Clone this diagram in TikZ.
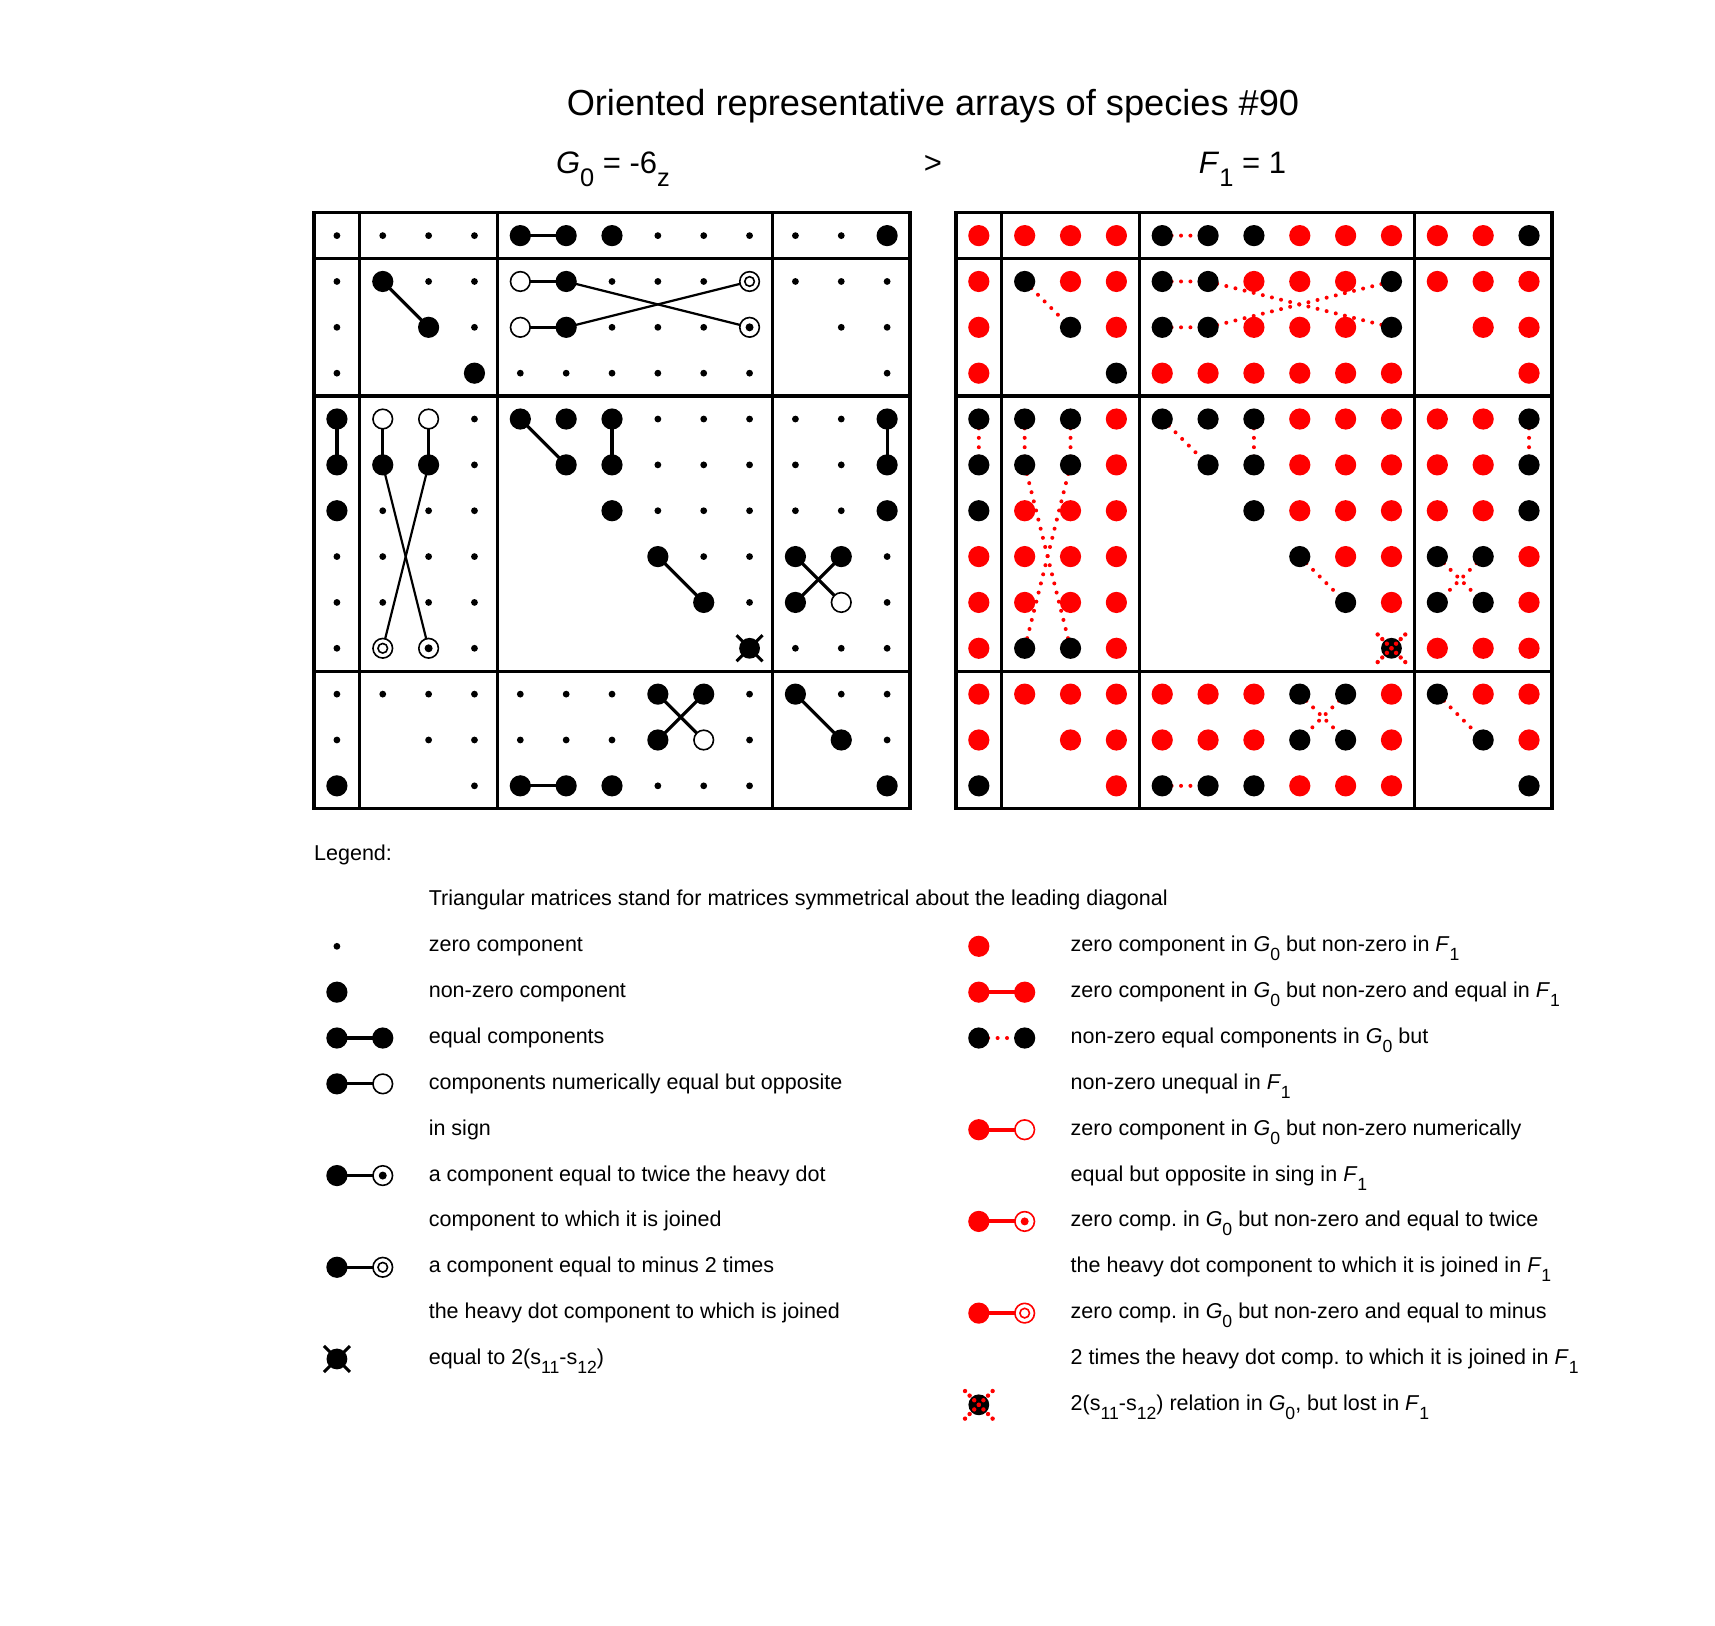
\documentclass[tikz,border=0pt]{standalone}
\usepackage{fontspec}
\setmainfont{Liberation Sans}
\usepackage{graphicx}
\frenchspacing
\newcommand\lsb[1]{\raisebox{-0.42em}{\scalebox{0.82}{#1}}}
\newcommand\hfont{\fontsize{31}{36}\selectfont}
\newcommand\lfont{\fontsize{21.5}{26}\selectfont}
\definecolor{myred}{RGB}{255,0,0}
\newcommand\bigdot[2][black]{\fill[#1] (#2) circle[radius=10.6pt];}
\newcommand\smdot[1]{\fill (#1) circle[radius=3.4pt];}
\newcommand\opendot[2][black]{\draw[#1,line width=1.6pt,fill=white] (#2) circle[radius=9.8pt];}
\newcommand\twicedot[2][black]{\opendot[#1]{#2}\fill[#1] (#2) circle[radius=4pt];}
\newcommand\minusdot[2][black]{\opendot[#1]{#2}\draw[#1,line width=1.6pt] (#2) circle[radius=4.8pt];}
\newcommand\xdot[1]{\fill (#1) circle[radius=10.4pt];
  \draw[line width=3pt] ([shift={(-13pt,-13pt)}]#1) -- ([shift={(13pt,13pt)}]#1);
  \draw[line width=3pt] ([shift={(-13pt,13pt)}]#1) -- ([shift={(13pt,-13pt)}]#1);}
\newcommand\rxdot[1]{\fill (#1) circle[radius=10.4pt];
  \foreach \k/\m in {-3/3,-2/2,-1/1,0/0,1/-1,2/-2,3/-3}{
    \fill[myred] ([shift={(\k*4.6pt,\k*4.6pt)}]#1) circle[radius=2.2pt];
    \fill[myred] ([shift={(\k*4.6pt,\m*4.6pt)}]#1) circle[radius=2.2pt];}}
\def\Lsmall{0/{0,1,2,3,7,8,9,10,11},1/{0,2,3,6,7,8,10,11,12},2/{0,3,6,7,8,11,12},3/{0,4,5,6,7,8,9,12},4/{3,7,8,9,10,11},5/{3,7,8,9,10,11},6/{1,2,3,7,8,9,10,11},7/{0,1,2,3,8,9,12},8/{0,1,2,3,9,12},9/{0,3,10,11,12},10/{0,1,2,3,4,5,6,9,11,12},11/{0,2,3,4,5,6,9,12},12/{3,7,8,9}}
\def\Lbig{0/{4,5,6,12},1/{1,5},2/{2,5},3/{3},4/{0,4,5,6,12},5/{0,1,2,5,6,12},6/{0,6,12},7/{7,10,11},8/{8,10},10/{7,8,10},11/{7,11},12/{0,4,5,6,12}}
\def\Lopen{1-4,2-4,4-1,4-2,8-11,11-8}
\def\Lminus{1-9,9-1}
\def\Ltwice{2-9,9-2}
\def\Cshort{0-4/0-5,1-1/2-2,1-4/1-5,2-4/2-5,4-0/5-0,4-1/5-1,4-2/5-2,4-4/5-5,4-6/5-6,4-12/5-12,7-7/8-8,7-10/8-11,7-11/8-10,10-7/11-8,10-8/11-7,10-10/11-11,12-4/12-5}
\def\Clong{1-5/2-9,2-5/1-9,5-1/9-2,5-2/9-1}
\begin{document}
\begin{tikzpicture}[x=45.85pt,y=-45.85pt,
  frame/.style={line width=3.3pt},
  conn/.style={line width=3.2pt},
  connlong/.style={line width=2.2pt},
  rconn/.style={myred,line width=4pt,line cap=round,dash pattern=on 0pt off 9.4pt},
  rsolid/.style={myred,line width=4pt},
  txt/.style={inner sep=0pt,anchor=base west,font=\lfont},
  head/.style={inner sep=0pt,anchor=base}]
\useasboundingbox[fill=white] (-6.848,-4.639) rectangle (30.556,30.824);
% cell coordinates
\foreach \r in {0,...,12}{\foreach \c in {0,...,12}{
  \coordinate (L\r-\c) at (\c+0.5,\r+0.5);
  \coordinate (R\r-\c) at (\c+14.5,\r+0.5);}}
% headings
\node[head] (title) at (13.5,-2.11) {\fontsize{36.2}{40}\selectfont Oriented representative arrays of species \#90};
\node[head] (g0) at (6.52,-0.86) {\hfont\textit{G}\lsb{0} = -6\lsb{z}};
\node[head] (gt) at (13.5,-0.86) {\hfont >};
\node[head] (f1) at (20.25,-0.86) {\hfont\textit{F}\lsb{1} = 1};
% frames
\foreach \ox in {0,14}{
  \draw[frame] (\ox,0) rectangle (\ox+13,13);
  \foreach \d in {1,4,10}{
    \draw[frame] (\ox+\d,0) -- (\ox+\d,13);
    \draw[frame] (\ox,\d) -- (\ox+13,\d);}}
% connectors
\foreach \a/\b in \Cshort {\draw[conn] (L\a) -- (L\b); \draw[rconn] (R\a) -- (R\b);}
\foreach \a/\b in \Clong {\draw[connlong] (L\a) -- (L\b); \draw[rconn] (R\a) -- (R\b);}
% dots
\foreach \r/\cs in \Lsmall {\foreach \c in \cs {\smdot{L\r-\c}\bigdot[myred]{R\r-\c}}}
\foreach \r/\cs in \Lbig {\foreach \c in \cs {\bigdot{L\r-\c}\bigdot{R\r-\c}}}
\foreach \p in \Lopen {\opendot{L\p}\bigdot{R\p}}
\foreach \p in \Lminus {\minusdot{L\p}\bigdot{R\p}}
\foreach \p in \Ltwice {\twicedot{L\p}\bigdot{R\p}}
\xdot{L9-9}
\rxdot{R9-9}
% legend coordinates
\foreach \k in {16,...,26}{
  \coordinate (la\k) at (0.5,\k); \coordinate (lb\k) at (1.5,\k);
  \coordinate (ra\k) at (14.5,\k); \coordinate (rb\k) at (15.5,\k);}
\node[txt] (leg) at (0,14.12) {Legend:};
\node[txt] (tri) at (2.5,15.12) {Triangular matrices stand for matrices symmetrical about the leading diagonal};
% left legend
\smdot{la16}
\node[txt] (l16) at (2.5,16.12) {zero component};
\bigdot{la17}
\node[txt] (l17) at (2.5,17.12) {non-zero component};
\draw[conn] (la18) -- (lb18); \bigdot{la18}\bigdot{lb18}
\node[txt] (l18) at (2.5,18.12) {equal components};
\draw[conn] (la19) -- (lb19); \bigdot{la19}\opendot{lb19}
\node[txt] (l19) at (2.5,19.12) {components numerically equal but opposite};
\node[txt] (l20) at (2.5,20.12) {in sign};
\draw[conn] (la21) -- (lb21); \bigdot{la21}\twicedot{lb21}
\node[txt] (l21) at (2.5,21.12) {a component equal to twice the heavy dot};
\node[txt] (l22) at (2.5,22.12) {component to which it is joined};
\draw[conn] (la23) -- (lb23); \bigdot{la23}\minusdot{lb23}
\node[txt] (l23) at (2.5,23.12) {a component equal to minus 2 times};
\node[txt] (l24) at (2.5,24.12) {the heavy dot component to which is joined};
\xdot{la25}
\node[txt] (l25) at (2.5,25.12) {equal to 2(s\lsb{11}-s\lsb{12})};
% right legend
\bigdot[myred]{ra16}
\node[txt] (r16) at (16.5,16.12) {zero component in \textit{G}\lsb{0} but non-zero in \textit{F}\lsb{1}};
\draw[rsolid] (ra17) -- (rb17); \bigdot[myred]{ra17}\bigdot[myred]{rb17}
\node[txt] (r17) at (16.5,17.12) {zero component in \textit{G}\lsb{0} but non-zero and equal in \textit{F}\lsb{1}};
\draw[rconn] (ra18) -- (rb18); \bigdot{ra18}\bigdot{rb18}
\node[txt] (r18) at (16.5,18.12) {non-zero equal components in \textit{G}\lsb{0} but};
\node[txt] (r19) at (16.5,19.12) {non-zero unequal in \textit{F}\lsb{1}};
\draw[rsolid] (ra20) -- (rb20); \bigdot[myred]{ra20}\opendot[myred]{rb20}
\node[txt] (r20) at (16.5,20.12) {zero component in \textit{G}\lsb{0} but non-zero numerically};
\node[txt] (r21) at (16.5,21.12) {equal but opposite in sing in \textit{F}\lsb{1}};
\draw[rsolid] (ra22) -- (rb22); \bigdot[myred]{ra22}\twicedot[myred]{rb22}
\node[txt] (r22) at (16.5,22.12) {zero comp. in \textit{G}\lsb{0} but non-zero and equal to twice};
\node[txt] (r23) at (16.5,23.12) {the heavy dot component to which it is joined in \textit{F}\lsb{1}};
\draw[rsolid] (ra24) -- (rb24); \bigdot[myred]{ra24}\minusdot[myred]{rb24}
\node[txt] (r24) at (16.5,24.12) {zero comp. in \textit{G}\lsb{0} but non-zero and equal to minus};
\node[txt] (r25) at (16.5,25.12) {2 times the heavy dot comp. to which it is joined in \textit{F}\lsb{1}};
\rxdot{ra26}
\node[txt] (r26) at (16.5,26.12) {2(s\lsb{11}-s\lsb{12}) relation in \textit{G}\lsb{0}, but lost in \textit{F}\lsb{1}};
\end{tikzpicture}
\end{document}
